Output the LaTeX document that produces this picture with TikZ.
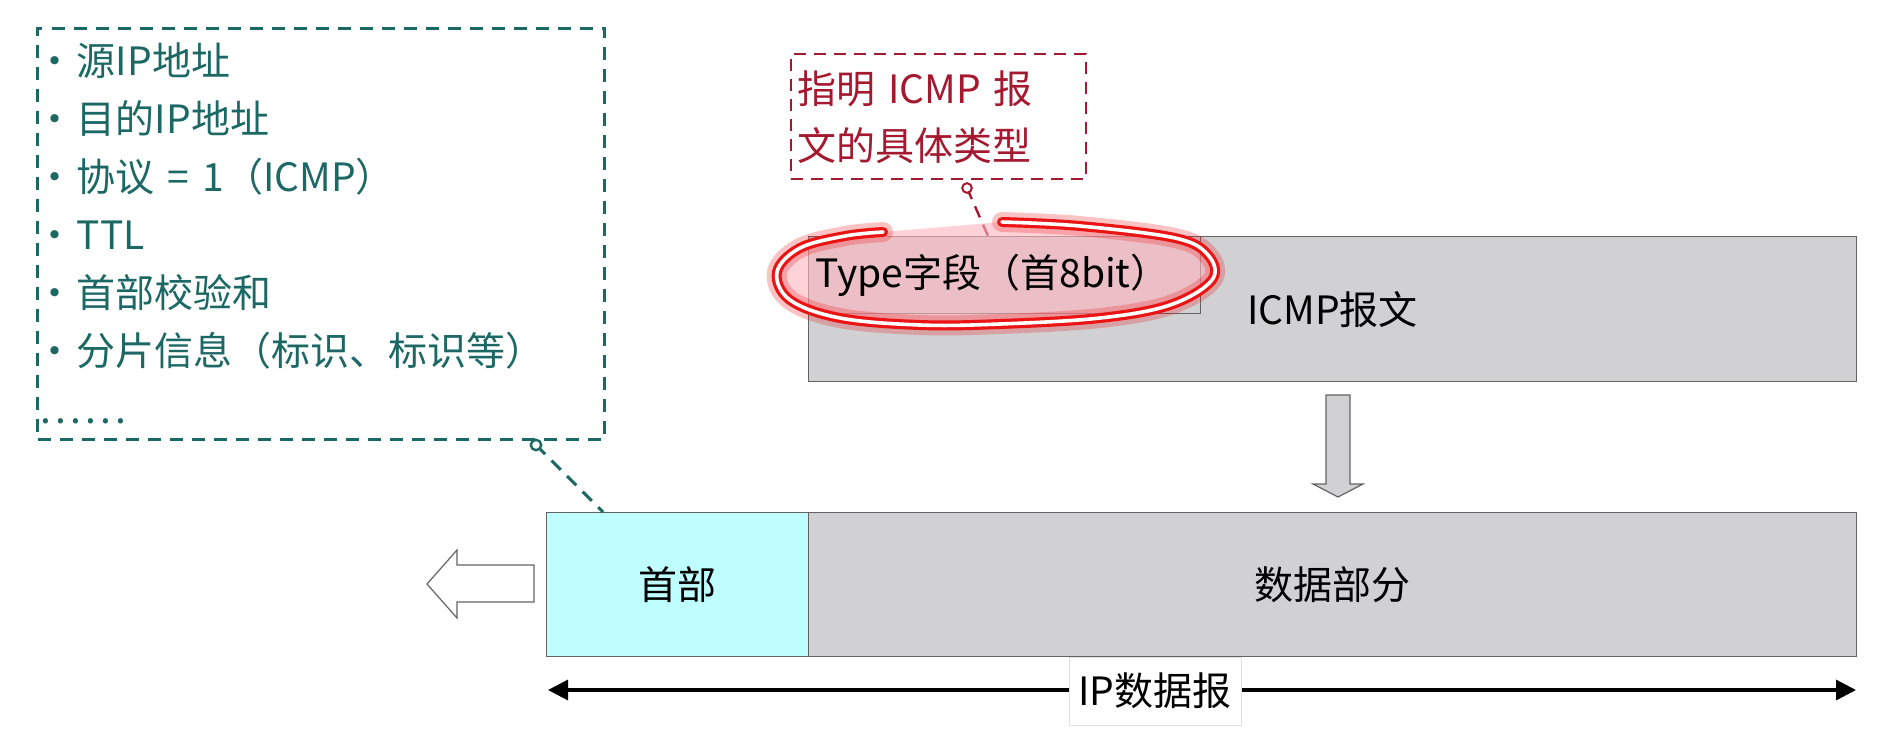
\documentclass[tikz,border=0pt]{standalone}
\usepackage{fontspec}
\setmainfont{Noto Sans CJK SC}
\usetikzlibrary{arrows.meta,calc}
\definecolor{tealc}{RGB}{28,104,100}
\definecolor{redc}{RGB}{165,25,48}
\definecolor{boxgray}{RGB}{209,208,211}
\definecolor{cyanc}{RGB}{192,255,255}
\definecolor{edgec}{RGB}{100,100,100}
\definecolor{hilite}{RGB}{235,20,20}
\definecolor{pinkc}{RGB}{255,180,190}
\newcommand{\bul}{\hspace{-5.5pt}·\hspace{1.5pt}}
\tikzset{
  pbox/.style={draw=edgec, line width=0.6pt, inner sep=0pt, anchor=north west},
  tealbox/.style={draw=tealc, line width=1.5pt, dash pattern=on 6.5pt off 4.5pt, text=tealc, anchor=north west},
  redbox/.style={draw=redc, line width=1.2pt, dash pattern=on 6pt off 4pt, text=redc, anchor=north west},
  tealconn/.style={draw=tealc, line width=1.5pt, dash pattern=on 6.5pt off 4.5pt},
  redconn/.style={draw=redc, line width=1.2pt, dash pattern=on 6pt off 4pt},
  hollow/.style={draw=edgec, line width=0.6pt, line join=miter},
  dimline/.style={line width=1.6pt, {Triangle[length=10pt,width=10pt]}-{Triangle[length=10pt,width=10pt]}},
}
\begin{document}
\begin{tikzpicture}[x=0.5pt,y=-0.5pt, font=\fontsize{19.5}{29}\selectfont]
\useasboundingbox (0,0) rectangle (1890,735);

% left info box
\node[tealbox, minimum width=283.5pt, minimum height=205.5pt, text width=275pt, inner xsep=4.25pt, align=left] (info) at (36,26.5)
{\bul 源IP地址\\
\bul 目的IP地址\\
\bul 协议 = 1（ICMP）\\
\bul TTL\\
\bul 首部校验和\\
\bul 分片信息（标识、标识等）\\[0pt]
\hspace{-2.5pt}.\hspace{2pt}.\hspace{2pt}.\hspace{2pt}.\hspace{2pt}.\hspace{2pt}.};

% red note box
\node[redbox, minimum width=147.5pt, minimum height=62.5pt, text width=141.5pt, inner xsep=3pt, align=left, font=\fontsize{19.5}{28.5}\selectfont] (note) at (790,53)
{指明 ICMP 报\\文的具体类型};

% ICMP message
\node[pbox, fill=boxgray, minimum width=524pt, minimum height=72.5pt] (icmp) at (808,236) {\raisebox{-5pt}{ICMP报文}};
\node[pbox, fill=boxgray, minimum height=38.5pt, minimum width=196pt] (typef) at (808,236) {};

% IP datagram
\node[pbox, fill=cyanc, minimum width=131pt, minimum height=72pt] (hdr) at (546,512) {首部};
\node[pbox, fill=boxgray, minimum width=524pt, minimum height=72pt] (data) at (808,512) {数据部分};

% connectors of the notes
\coordinate (tc) at (536,445);
\coordinate (tend) at (603,512);
\draw[tealconn] (tc) -- (tend);
\draw[draw=tealc, line width=1.2pt, fill=white] (tc) circle[radius=2.6pt];

\coordinate (rc) at (967,188);
\coordinate (rend) at (988,236);
\draw[redconn] (rc) -- (rend);
\draw[draw=redc, line width=1pt, fill=white] (rc) circle[radius=2.4pt];

% highlight loop
\def\looppts{(883,232) (845,236) (800,248) (777,272) (790,300) (840,318) (920,325) (1000,324) (1100,318) (1170,305) (1212,280) (1208,255) (1175,238) (1080,226) (1002,222)}
\fill[pinkc, opacity=0.6] plot[smooth, tension=0.6] coordinates {\looppts} -- cycle;
\draw[hilite, opacity=0.25, line width=10pt, line cap=round] plot[smooth, tension=0.6] coordinates {\looppts};
\draw[hilite, line width=5pt, line cap=round] plot[smooth, tension=0.6] coordinates {\looppts};
\draw[white, line width=1.8pt, line cap=round] plot[smooth, tension=0.6] coordinates {\looppts};
\node[anchor=north west, inner xsep=3.5pt, inner ysep=0pt, minimum height=38.5pt] (typetext) at (typef.north west) {Type字段（首8bit）};

% down arrow
\draw[hollow, fill=boxgray] (1326,395) -- (1350,395) -- (1350,484) -- (1363,484) -- (1338,497) -- (1313,484) -- (1326,484) -- cycle;

% left hollow arrow
\draw[hollow, fill=white] (427,584) -- (457,550) -- (457,565) -- (534,565) -- (534,602) -- (457,602) -- (457,618) -- cycle;

% IP datagram extent
\coordinate (al) at (548,690);
\coordinate (ar) at (1856,690);
\draw[dimline] (al) -- (ar);
\node[fill=white, draw=black!12, line width=0.4pt, minimum width=86pt, minimum height=34pt, inner sep=1pt] (iplab) at (1155,691) {IP数据报};
\end{tikzpicture}
\end{document}
